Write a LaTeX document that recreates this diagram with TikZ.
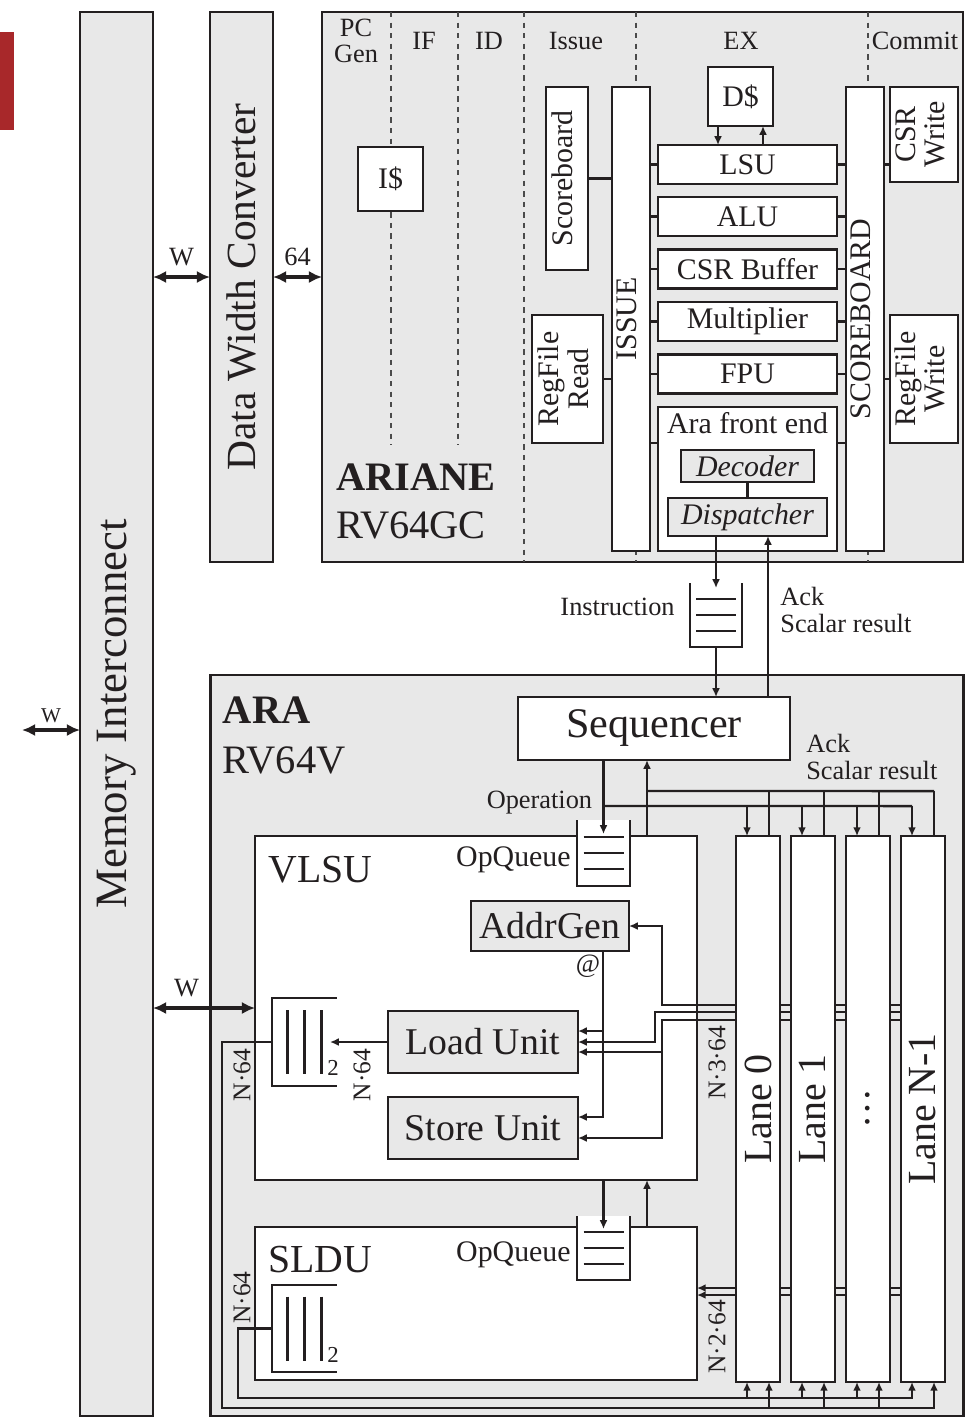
\documentclass[tikz,border=0pt]{standalone}
\usepackage{fontspec}
\setmainfont{Liberation Serif}
\usetikzlibrary{arrows.meta,positioning,calc}
\definecolor{Ink}{HTML}{231F20}
\definecolor{Panel}{HTML}{E8E8E8}
\definecolor{Muted}{HTML}{4A4A4A}
\definecolor{Brick}{HTML}{A8282A}
\newcommand{\rotlabel}[1]{\rotatebox{90}{\begin{tabular}{@{}c@{}}#1\end{tabular}}}
\tikzset{
 bigtext/.style={font=\fontsize{23}{23}\selectfont},
 midtext/.style={font=\fontsize{21.5}{21.5}\selectfont},
 unittext/.style={font=\fontsize{17}{17}\selectfont},
 smalltext/.style={font=\fontsize{15}{15}\selectfont},
 tinytext/.style={font=\fontsize{14.5}{14.5}\selectfont},
 box/.style={draw=Ink, line width=1.5pt, fill=white, inner sep=0pt, outer sep=0pt, align=center, unittext},
 graybox/.style={box, fill=Panel},
 panel/.style={draw=Ink, line width=1.5pt, fill=Panel, inner sep=0pt, outer sep=0pt},
 queue/.style={inner sep=0pt, outer sep=0pt, fill=white},
 lanebox/.style={box, minimum width=0.88cm, minimum height=10.92cm, font=\fontsize{22.7}{22.7}\selectfont},
 lbl/.style={inner sep=0pt, smalltext},
 wire/.style={line width=1.35pt, draw=Ink},
 arrow/.style={wire, -{Latex[length=5pt,width=4.5pt]}},
 busarrow/.style={line width=2.5pt, draw=Ink, {Latex[length=7.5pt,width=7pt]}-{Latex[length=7.5pt,width=7pt]}},
 stage/.style={dashed, line width=0.7pt, draw=Muted}
}

\begin{document}
\begin{tikzpicture}[x=0.02cm, y=-0.02cm, color=Ink]
\useasboundingbox (0,0) rectangle (965,1418);
\fill[Brick] (0,32) rectangle (14,130);

% outer blocks
\node[panel, minimum width=1.46cm, minimum height=28.08cm, font=\fontsize{25.5}{25.5}\selectfont] (mem) at (116.5,714) {\rotatebox{90}{Memory Interconnect}};
\node[panel, minimum width=1.26cm, minimum height=11cm, font=\fontsize{23.6}{23.6}\selectfont] (dwc) at (241.5,287) {\rotatebox{90}{Data Width Converter}};
\node[panel, minimum width=12.82cm, minimum height=11cm] (ariane) at (642.5,287) {};
\node[panel, minimum width=15.06cm, minimum height=14.82cm] (ara) at (587,1045.5) {};

\coordinate (wext) at (22,730);
\draw[busarrow] (wext) -- (wext -| mem.west) node[midway, above=3pt, lbl, font=\fontsize{12}{12}\selectfont] {W};
\draw[busarrow] (mem.east |- 0,277) -- (dwc.west |- 0,277) node[midway, above=5pt, lbl] {W};
\draw[busarrow] (dwc.east |- 0,277) -- (ariane.west |- 0,277) node[midway, above=5pt, lbl] {64};

% ariane pipeline stages
\foreach \x in {391,458} \draw[stage] (ariane.north -| \x,0) -- (\x,445);
\foreach \x in {524,636,868} \draw[stage] (ariane.north -| \x,0) -- (ariane.south -| \x,0);
\node[lbl, align=center] at (356,41) {PC\\Gen};
\node[lbl] at (424,41) {IF};
\node[lbl] at (489,41) {ID};
\node[lbl] at (576,41) {Issue};
\node[lbl] at (741,41) {EX};
\node[lbl] at (915,41) {Commit};

\node[box, minimum width=1.3cm, minimum height=1.28cm] (icache) at (390.5,179) {I\$};
\node[box, minimum width=0.84cm, minimum height=3.66cm] (scb) at (567,178.5) {\rotlabel{Scoreboard}};
\node[box, minimum width=1.42cm, minimum height=2.56cm] (rfr) at (567.5,379) {\rotlabel{RegFile\\Read}};
\node[box, minimum width=0.76cm, minimum height=9.28cm] (issue) at (631,319) {\rotlabel{ISSUE}};
\node[box, minimum width=1.3cm, minimum height=1.18cm] (dcache) at (740.5,96.5) {D\$};
\foreach \n/\y/\t in {lsu/164.5/LSU, alu/216.5/ALU, csrb/269/CSR Buffer, mul/321.5/Multiplier, fpu/374/FPU}
  \node[box, minimum width=3.58cm, minimum height=0.78cm] (\n) at (747.5,\y) {\t};
\node[box, minimum width=3.58cm, minimum height=2.88cm, label={[lbl, unittext, anchor=north, yshift=-3pt]north:Ara front end}] (afe) at (747.5,479) {};
\node[graybox, minimum width=2.66cm, minimum height=0.64cm, font=\fontsize{17}{17}\selectfont\itshape] (dec) at (747.5,466) {Decoder};
\node[graybox, minimum width=3.18cm, minimum height=0.76cm, font=\fontsize{17}{17}\selectfont\itshape] (disp) at (747.5,517) {Dispatcher};
\node[box, minimum width=0.76cm, minimum height=9.28cm] (sb) at (865,319) {\rotlabel{SCOREBOARD}};
\node[box, minimum width=1.36cm, minimum height=1.9cm] (csrw) at (924,134.5) {\rotlabel{CSR\\Write}};
\node[box, minimum width=1.36cm, minimum height=2.56cm] (rfw) at (924,379) {\rotlabel{RegFile\\Write}};
\node[bigtext, anchor=base west, inner sep=0pt] (arianename) at ($(ariane.north west)+(14,478)$) {\textbf{ARIANE}};
\node[bigtext, anchor=base west, inner sep=0pt] (arianeisa) at ($(ariane.north west)+(14,526)$) {RV64GC};

\draw[wire] (scb.east) -- (scb.east -| issue.west);
\draw[wire] (rfr.east) -- (rfr.east -| issue.west);
\foreach \n in {lsu,alu,csrb,mul,fpu} {
  \draw[wire] (\n.west -| issue.east) -- (\n.west);
  \draw[wire] (\n.east) -- (\n.east -| sb.west);
}
\draw[wire] ($(afe.north west)+(0,36)$) coordinate (afein) -- (afein -| issue.east);
\draw[wire] ($(afe.north east)+(0,36)$) coordinate (afeout) -- (afeout -| sb.west);
\draw[wire] (lsu.east -| sb.east) -- (lsu.east -| csrw.west);
\draw[wire] (rfw.west -| sb.east) -- (rfw.west);
\draw[arrow] ($(dcache.south)+(-22.5,0)$) coordinate (dcd) -- (dcd |- lsu.north);
\draw[arrow] ($(lsu.north)+(15.5,0)$) coordinate (dcu) -- (dcu |- dcache.south);
\draw[wire] (dec) -- (disp);

% ariane <-> ara
\node[queue, minimum width=1.04cm, minimum height=1.28cm] (iq) at (716,615) {};
\node[box, minimum width=5.44cm, minimum height=1.26cm, font=\fontsize{24}{24}\selectfont] (seq) at (654,728.5) {Sequencer};
\draw[arrow] (iq.north |- disp.south) -- ($(iq.north)+(0,5)$);
\draw[arrow] (iq.south) -- (iq.south |- seq.north);
\draw[arrow] ($(seq.north)+(114,0)$) coordinate (ackup) -- (ackup |- disp.south);
\node[lbl, anchor=east] at ($(iq.west)+(-15,-8)$) {Instruction};
\node[lbl, anchor=west, align=left] at ($(ackup)+(12,-87)$) {Ack\\Scalar result};
\node[bigtext, anchor=base west, inner sep=0pt] (araname) at ($(ara.north west)+(12,48)$) {\textbf{ARA}};
\node[bigtext, anchor=base west, inner sep=0pt] (araisa) at ($(ara.north west)+(12,98)$) {RV64V};

% ara units
\node[box, minimum width=8.84cm, minimum height=6.88cm] (vlsu) at (476,1008) {};
\node[queue, minimum width=1.06cm, minimum height=1.32cm] (vq) at (603.5,853) {};
\node[graybox, minimum width=3.16cm, minimum height=1.0cm, midtext] (agen) at (550,926) {AddrGen};
\node[graybox, minimum width=3.8cm, minimum height=1.24cm, midtext] (ldu) at (483,1042) {Load Unit};
\node[graybox, minimum width=3.8cm, minimum height=1.24cm, midtext] (stu) at (483,1128) {Store Unit};
\node[queue, minimum width=1.3cm, minimum height=1.76cm] (lq) at (304.5,1042) {};
\node[box, minimum width=8.84cm, minimum height=3.06cm] (sldu) at (476,1303.5) {};
\node[queue, minimum width=1.06cm, minimum height=1.28cm] (sq) at (603.5,1248) {};
\node[queue, minimum width=1.3cm, minimum height=1.74cm] (slq) at (304.5,1328.5) {};
\node[anchor=base west, inner sep=0pt, font=\fontsize{22.6}{22.6}\selectfont] at ($(vlsu.north west)+(13,46)$) {VLSU};
\node[anchor=base west, inner sep=0pt, font=\fontsize{22.6}{22.6}\selectfont] at ($(sldu.north west)+(13,45)$) {SLDU};
\node[lbl, unittext, anchor=east] at ($(vq.west)+(-6,7)$) {OpQueue};
\node[lbl, unittext, anchor=east] at ($(sq.west)+(-6,7)$) {OpQueue};
\foreach \i/\x/\t in {0/758/Lane 0,1/813/Lane 1,2/868/\dots,3/923/Lane N-1}
  \node[lanebox] (lane\i) at (\x,1109) {\rotatebox{90}{\t}};

% queues
\foreach \q in {iq,vq,sq} {
  \draw[wire] (\q.north west) |- (\q.south east) -- (\q.north east);
  \foreach \dy in {-16,0,16} \draw[wire] ($(\q.center)+(-20,\dy)$) -- ++(40,0);
}
\foreach \q in {lq,slq} {
  \draw[wire] (\q.north east) -- (\q.north west) -- (\q.south west) -- (\q.south east);
  \foreach \dx in {-17,0,17} \draw[wire] ($(\q.center)+(\dx,-32)$) -- ++(0,64);
  \node[inner sep=0pt, font=\fontsize{13}{13}\selectfont] at ($(\q.east)+(-4,26)$) {2};
}

% sequencer <-> units
\draw[arrow] (vq.north |- seq.south) -- ($(vq.north)+(0,14)$);
\draw[wire] ($(vq.north)+(0,-14)$) coordinate (opb) -- ($(lane3.north)+(-11,-30)$);
\draw[arrow] ($(vlsu.north)+(171,0)$) coordinate (ackv) -- (ackv |- seq.south);
\draw[wire] ($(ackv)+(0,-45)$) -- ($(lane3.north)+(11,-45)$);
\foreach \i in {0,...,3} {
  \draw[arrow] ($(lane\i.north)+(-11,-30)$) -- ($(lane\i.north)+(-11,0)$);
  \draw[wire] ($(lane\i.north)+(11,0)$) -- ++(0,-45);
}
\node[lbl, anchor=east] at ($(opb)+(-11,-3)$) {Operation};
\node[lbl, anchor=west, align=left] at ($(seq.south east)+(16,-3)$) {Ack\\Scalar result};
\draw[arrow] (sq.north |- vlsu.south) -- ($(sq.north)+(0,13)$);
\draw[arrow] ($(sldu.north)+(171,0)$) coordinate (sv) -- (sv |- vlsu.south);

% vlsu datapath
\draw[busarrow] (mem.east |- 0,1008) -- (vlsu.west |- 0,1008) node[pos=0.33, above=5pt, lbl] {W};
\draw[arrow] ($(agen.south)+(53,0)$) coordinate (addr) |- ($(stu.east)+(0,-11)$);
\draw[arrow] ($(ldu.east)+(25,-11)$) -- ($(ldu.east)+(0,-11)$);
\node[lbl] at ($(addr)+(-15,15)$) {@};
\draw[arrow] (lane0.west |- 0,1005) -| ($(agen.east)+(33,0)$) -- (agen.east);
\draw[arrow] (lane0.west |- 0,1012) -| ($(ldu.east)+(77,0)$) -- (ldu.east);
\draw[arrow] (lane0.west |- 0,1020) -| ($(stu.east)+(84,10)$) -- ($(stu.east)+(0,10)$);
\draw[arrow] ($(ldu.east)+(84,10)$) -- ($(ldu.east)+(0,10)$);
\draw[arrow] (ldu.west) -- ($(lq.east)+(-7,0)$);
\foreach \y in {1288,1295} \draw[arrow] (lane0.west |- 0,\y) -- (sldu.east |- 0,\y);
\foreach \i/\j in {0/1,1/2,2/3}
  \foreach \y in {1005,1012,1020,1288,1295} \draw[wire] (lane\i.east |- 0,\y) -- (lane\j.west |- 0,\y);

% writeback to lanes
\draw[arrow] (lq.west) -- ++(-50,0) |- ($(lane3.south)+(11,26)$) -- ($(lane3.south)+(11,0)$);
\draw[arrow] (slq.west) -- ++(-34,0) |- ($(lane3.south)+(-11,16)$) -- ($(lane3.south)+(-11,0)$);
\foreach \i in {0,1,2} {
  \draw[arrow] ($(lane\i.south)+(11,26)$) -- ($(lane\i.south)+(11,0)$);
  \draw[arrow] ($(lane\i.south)+(-11,16)$) -- ($(lane\i.south)+(-11,0)$);
}

% widths
\node[tinytext, inner sep=0pt] at ($(lq.west)+(-30,33)$) {\rotatebox{90}{N·64}};
\node[tinytext, inner sep=0pt] at ($(lq.east)+(25,33)$) {\rotatebox{90}{N·64}};
\node[tinytext, inner sep=0pt] at ($(slq.west)+(-30,-31)$) {\rotatebox{90}{N·64}};
\node[tinytext, inner sep=0pt] at ($(vlsu.east)+(20,55)$) {\rotatebox{90}{N·3·64}};
\node[tinytext, inner sep=0pt] at ($(sldu.east)+(20,33.5)$) {\rotatebox{90}{N·2·64}};
\end{tikzpicture}
\end{document}
